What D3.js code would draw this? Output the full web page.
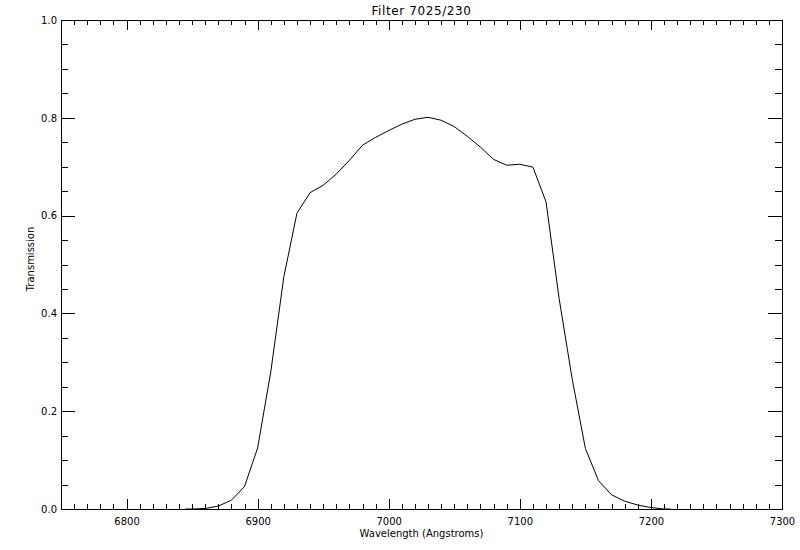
<!DOCTYPE html>
<html>
<head>
<meta charset="utf-8">
<script src="https://cdn.jsdelivr.net/npm/d3@7"></script>
<style>
body { margin: 0; background: #fff; }
text { font-family: "DejaVu Sans", sans-serif; fill: #000; }
</style>
</head>
<body>
<svg id="chart" width="800" height="550"></svg>
<script>
const title = "Filter 7025/230";
const xLabel = "Wavelength (Angstroms)";
const yLabel = "Transmission";
const wavelength = [6845, 6850, 6860, 6870, 6880, 6890, 6900, 6910, 6920, 6930, 6940, 6950, 6960, 6970, 6980, 6990, 7000, 7010, 7020, 7030, 7040, 7050, 7060, 7070, 7080, 7090, 7100, 7110, 7120, 7130, 7140, 7150, 7160, 7170, 7180, 7190, 7200, 7210, 7215];
const transmission = [0, 0, 0.001, 0.006, 0.018, 0.046, 0.125, 0.28, 0.475, 0.605, 0.647, 0.662, 0.685, 0.713, 0.744, 0.760, 0.774, 0.787, 0.797, 0.801, 0.795, 0.782, 0.762, 0.740, 0.715, 0.703, 0.705, 0.699, 0.628, 0.43, 0.265, 0.124, 0.058, 0.029, 0.016, 0.008, 0.003, 0, 0];
const xMajorTicks = [6800, 6900, 7000, 7100, 7200, 7300];
const yMajorTicks = [0.0, 0.2, 0.4, 0.6, 0.8, 1.0];

const L = 61, R = 782, T = 20, B = 509;
const svg = d3.select("#chart");
const x = d3.scaleLinear().domain([6750, 7300]).range([L, R]);
const y = d3.scaleLinear().domain([0, 1]).range([B, T]);

const xMinor = d3.range(6760, 7300, 10).filter(v => v % 100 !== 0);
const yMinor = d3.range(0.05, 1.0, 0.05).filter(v => Math.abs(v * 5 - Math.round(v * 5)) > 1e-6);

const g = svg.append("g").attr("shape-rendering", "crispEdges");
g.append("rect").attr("x", L).attr("y", T).attr("width", R - L).attr("height", B - T)
  .attr("fill", "none").attr("stroke", "#000");

const xLenMaj = 10, xLenMin = 5, yLenMaj = 14, yLenMin = 7;
// bottom axis
g.append("g").attr("transform", `translate(0,${B})`)
  .call(d3.axisBottom(x).tickValues(xMajorTicks).tickSize(-xLenMaj).tickPadding(9).tickFormat(d3.format("d")))
  .call(a => a.select(".domain").remove());
g.append("g").attr("transform", `translate(0,${B})`)
  .call(d3.axisBottom(x).tickValues(xMinor).tickSize(-xLenMin).tickFormat(""))
  .call(a => a.select(".domain").remove());
// top axis
g.append("g").attr("transform", `translate(0,${T})`)
  .call(d3.axisTop(x).tickValues(xMajorTicks).tickSize(-xLenMaj).tickFormat(""))
  .call(a => a.select(".domain").remove());
g.append("g").attr("transform", `translate(0,${T})`)
  .call(d3.axisTop(x).tickValues(xMinor).tickSize(-xLenMin).tickFormat(""))
  .call(a => a.select(".domain").remove());
// left axis
g.append("g").attr("transform", `translate(${L},0)`)
  .call(d3.axisLeft(y).tickValues(yMajorTicks).tickSize(-yLenMaj).tickPadding(4).tickFormat(d3.format(".1f")))
  .call(a => a.select(".domain").remove());
g.append("g").attr("transform", `translate(${L},0)`)
  .call(d3.axisLeft(y).tickValues(yMinor).tickSize(-yLenMin).tickFormat(""))
  .call(a => a.select(".domain").remove());
// right axis
g.append("g").attr("transform", `translate(${R},0)`)
  .call(d3.axisRight(y).tickValues(yMajorTicks).tickSize(-yLenMaj).tickFormat(""))
  .call(a => a.select(".domain").remove());
g.append("g").attr("transform", `translate(${R},0)`)
  .call(d3.axisRight(y).tickValues(yMinor).tickSize(-yLenMin).tickFormat(""))
  .call(a => a.select(".domain").remove());

svg.selectAll(".tick line").attr("stroke", "#000");
svg.selectAll(".tick text").attr("font-size", 10).attr("font-family", "DejaVu Sans, sans-serif").attr("fill", "#000");

const data = wavelength.map((w, i) => [w, transmission[i]]);
svg.append("path").datum(data)
  .attr("fill", "none").attr("stroke", "#000").attr("stroke-width", 1)
  .attr("d", d3.line().x(d => x(d[0])).y(d => y(d[1])));

svg.append("text").attr("x", (L + R) / 2).attr("y", 15).attr("text-anchor", "middle")
  .attr("font-size", 12).attr("letter-spacing", 0.6).text(title);
svg.append("text").attr("x", (L + R) / 2).attr("y", 537).attr("text-anchor", "middle")
  .attr("font-size", 10).text(xLabel);
svg.append("text").attr("transform", `translate(34,259) rotate(-90)`).attr("text-anchor", "middle")
  .attr("font-size", 10).text(yLabel);
</script>
</body>
</html>
